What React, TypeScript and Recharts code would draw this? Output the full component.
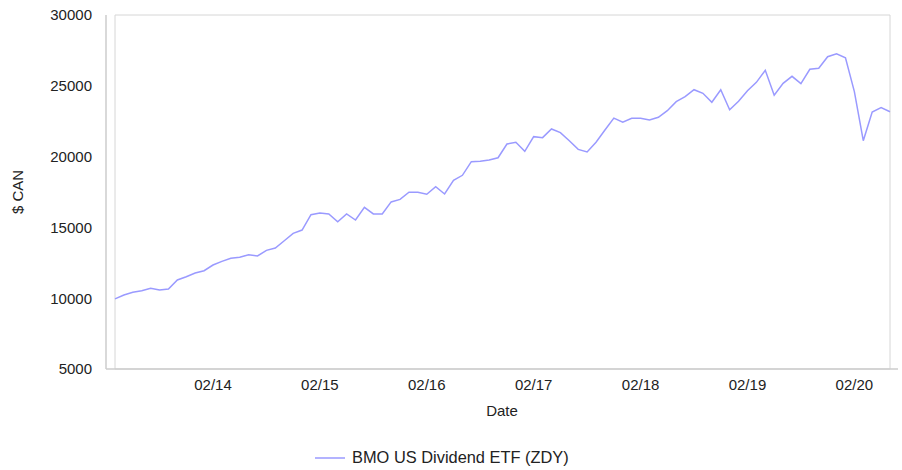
import React from 'react';
import { LineChart, Line, XAxis, YAxis, Legend, ReferenceArea } from 'recharts';

const dates = [
  '03/13','04/13','05/13','06/13','07/13','08/13','09/13','10/13','11/13','12/13',
  '01/14','02/14','03/14','04/14','05/14','06/14','07/14','08/14','09/14','10/14','11/14','12/14',
  '01/15','02/15','03/15','04/15','05/15','06/15','07/15','08/15','09/15','10/15','11/15','12/15',
  '01/16','02/16','03/16','04/16','05/16','06/16','07/16','08/16','09/16','10/16','11/16','12/16',
  '01/17','02/17','03/17','04/17','05/17','06/17','07/17','08/17','09/17','10/17','11/17','12/17',
  '01/18','02/18','03/18','04/18','05/18','06/18','07/18','08/18','09/18','10/18','11/18','12/18',
  '01/19','02/19','03/19','04/19','05/19','06/19','07/19','08/19','09/19','10/19','11/19','12/19',
  '01/20','02/20','03/20','04/20','05/20','06/20',
];

const zdyValues = [
  9950, 10230, 10420, 10530, 10700, 10580, 10650, 11285, 11520, 11780,
  11940, 12345, 12600, 12820, 12890, 13070, 12980, 13380, 13545, 14060, 14580, 14815,
  15900, 16020, 15950, 15400, 15950, 15520, 16420, 15950, 15950, 16800, 16980, 17480,
  17480, 17340, 17880, 17360, 18330, 18680, 19640, 19670, 19760, 19920, 20890, 21010,
  20375, 21410, 21340, 21950, 21690, 21120, 20510, 20325, 21010, 21880, 22720, 22430,
  22700, 22700, 22585, 22775, 23240, 23880, 24230, 24725, 24470, 23835, 24725, 23310,
  23905, 24655, 25245, 26095, 24330, 25175, 25670, 25150, 26165, 26235, 27055, 27265,
  26985, 24585, 21120, 23150, 23455, 23170,
];

const xTicks = ['02/14', '02/15', '02/16', '02/17', '02/18', '02/19', '02/20'];
const yTicks = [5000, 10000, 15000, 20000, 25000, 30000];
const seriesName = 'BMO US Dividend ETF (ZDY)';

const data = dates.map((d, i) => ({ date: d, zdy: zdyValues[i] }));

const LINE_COLOR = '#9a9aff';
const FONT = '"Liberation Sans", Arial, sans-serif';

const renderLegend = () => (
  <div style={{ display: 'flex', alignItems: 'center', fontSize: 16.4, color: '#222', fontFamily: FONT, whiteSpace: 'nowrap' }}>
    <svg width={30} height={4} style={{ display: 'block' }}>
      <line x1={0} y1={2} x2={30} y2={2} stroke={LINE_COLOR} strokeWidth={1.5} />
    </svg>
    <span style={{ marginLeft: 7 }}>{seriesName}</span>
  </div>
);

export default function App() {
  return (
    <div style={{ position: 'absolute', left: 0, top: 0, width: 902, height: 470, background: '#fff' }}>
      <LineChart
        width={902}
        height={470}
        data={data}
        margin={{ top: 15, right: 4, bottom: 51, left: 0 }}
        style={{ fontFamily: FONT }}
      >
        <ReferenceArea y1={5000} y2={30000} fill="none" stroke="#d6d6d6" strokeWidth={1} ifOverflow="visible" />
        <XAxis
          dataKey="date"
          ticks={xTicks}
          interval={0}
          tickLine={false}
          axisLine={{ stroke: '#cccccc', strokeWidth: 1.5 }}
          padding={{ left: 9, right: 8 }}
          height={50}
          tickMargin={4}
          tick={{ fontSize: 15, fill: '#222' }}
          label={{ value: 'Date', position: 'insideBottom', offset: 3, fontSize: 15, fill: '#222' }}
        />
        <YAxis
          domain={[5000, 30000]}
          ticks={yTicks}
          tickLine={false}
          axisLine={{ stroke: '#cccccc', strokeWidth: 1.5 }}
          width={106}
          tickMargin={8}
          tick={{ fontSize: 15, fill: '#222' }}
          label={{ value: '$ CAN', angle: -90, position: 'insideLeft', offset: 18, fontSize: 15, fill: '#222', style: { textAnchor: 'middle' } }}
        />
        <Line
          type="linear"
          dataKey="zdy"
          name={seriesName}
          stroke={LINE_COLOR}
          strokeWidth={1.5}
          dot={false}
          isAnimationActive={false}
        />
        <Legend verticalAlign="middle" content={renderLegend} wrapperStyle={{ top: 448, left: 315, width: 'auto' }} />
      </LineChart>
    </div>
  );
}
